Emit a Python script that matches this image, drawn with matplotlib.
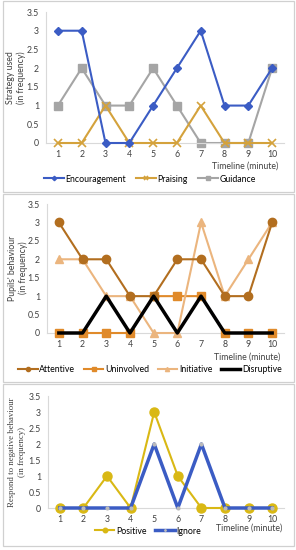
import matplotlib.pyplot as plt
from matplotlib.patches import Rectangle

# data
minutes = [1, 2, 3, 4, 5, 6, 7, 8, 9, 10]

encouragement = [3, 3, 0, 0, 1, 2, 3, 1, 1, 2]
praising = [0, 0, 1, 0, 0, 0, 1, 0, 0, 0]
guidance = [1, 2, 1, 1, 2, 1, 0, 0, 0, 2]

attentive = [3, 2, 2, 1, 1, 2, 2, 1, 1, 3]
uninvolved = [0, 0, 0, 0, 1, 1, 1, 0, 0, 0]
initiative = [2, 2, 1, 1, 0, 0, 3, 1, 2, 3]
disruptive = [0, 0, 1, 0, 1, 0, 1, 0, 0, 0]

positive = [0, 0, 1, 0, 3, 1, 0, 0, 0, 0]
ignore = [0, 0, 0, 0, 2, 0, 2, 0, 0, 0]

yticks = [0, 0.5, 1, 1.5, 2, 2.5, 3, 3.5]
ytick_labels = ["0", "0.5", "1", "1.5", "2", "2.5", "3", "3.5"]

W, H = 296, 550
plt.rcParams['font.family'] = ['Lato', 'DejaVu Sans']
fs = 6.3

fig = plt.figure(figsize=(W / 100, H / 100), dpi=100)


def px_axes(x0, x1, ytop, ybot):
    return fig.add_axes([x0 / W, 1 - ybot / H, (x1 - x0) / W, (ybot - ytop) / H])


def style(ax):
    ax.set_xlim(0.5, 10.5)
    ax.set_ylim(0, 3.5)
    ax.set_yticks(yticks)
    ax.set_yticklabels(ytick_labels, fontsize=fs)
    ax.set_xticks(minutes)
    ax.set_xticklabels([str(m) for m in minutes], fontsize=fs)
    ax.tick_params(length=0, pad=5, colors='#404040')
    for s in ['top', 'right']:
        ax.spines[s].set_visible(False)
    ax.spines['left'].set_color('#D9D9D9')
    ax.spines['bottom'].set_color('#D9D9D9')
    ax.set_clip_on(False)


# panel borders
for (y0, y1) in [(1, 192), (194, 382), (384, 546)]:
    fig.patches.append(Rectangle((3 / W, 1 - y1 / H), 291 / W, (y1 - y0) / H,
                                 transform=fig.transFigure, fill=False,
                                 edgecolor='#D0D0D0', linewidth=0.9))

# panel 1
ax1 = px_axes(46, 284, 12, 143)
style(ax1)
l1, = ax1.plot(minutes, encouragement, color='#3B5CC4', lw=1.5, marker='D', ms=4.5, clip_on=False, zorder=4)
l2, = ax1.plot(minutes, praising, color='#D4A23C', lw=1.5, marker='x', ms=6, mew=1.2, clip_on=False, zorder=3)
l3, = ax1.plot(minutes, guidance, color='#A5A5A5', lw=1.5, marker='s', ms=6, clip_on=False, zorder=2)
fig.text(16 / W, 1 - 78 / H, "Strategy used\n(in frequency)", rotation=90, fontsize=fs,
         ha='center', va='center', color='#404040')
fig.text(278 / W, 1 - 166 / H, "Timeline (minute)", fontsize=fs, ha='right', va='center', color='#404040')
fig.legend([l1, l2, l3], ["Encouragement", "Praising", "Guidance"], loc='center',
           bbox_to_anchor=(150 / W, 1 - 179 / H), ncol=3, frameon=False, fontsize=fs,
           handlelength=2.2, handletextpad=0.2, columnspacing=1.2, markerscale=0.5)

# panel 2
ax2 = px_axes(47, 284, 204, 333)
style(ax2)
a1, = ax2.plot(minutes, attentive, color='#B26E1F', lw=1.5, marker='o', ms=6, clip_on=False, zorder=5)
a2, = ax2.plot(minutes, uninvolved, color='#E08A2A', lw=1.5, marker='s', ms=6, clip_on=False, zorder=3)
a3, = ax2.plot(minutes, initiative, color='#EBB57E', lw=1.5, marker='^', ms=6, clip_on=False, zorder=4)
a4, = ax2.plot(minutes, disruptive, color='#000000', lw=2.5, clip_on=False, zorder=6)
fig.text(18 / W, 1 - 268 / H, "Pupils' behaviour\n(in frequency)", rotation=90, fontsize=fs,
         ha='center', va='center', color='#404040')
fig.text(280 / W, 1 - 357 / H, "Timeline (minute)", fontsize=fs, ha='right', va='center', color='#404040')
fig.legend([a1, a2, a3, a4], ["Attentive", "Uninvolved", "Initiative", "Disruptive"], loc='center',
           bbox_to_anchor=(150 / W, 1 - 370 / H), ncol=4, frameon=False, fontsize=fs,
           handlelength=2.2, handletextpad=0.2, columnspacing=1.0, markerscale=0.5)

# panel 3
ax3 = px_axes(48, 284, 396, 508)
style(ax3)
p1, = ax3.plot(minutes, positive, color='#D9B814', lw=1.5, marker='o', ms=6.5, clip_on=False, zorder=3)
p2, = ax3.plot(minutes, ignore, color='#3B5CC4', lw=2.5, marker='o', ms=2, mfc='#BBBBBB', mec='#BBBBBB',
               clip_on=False, zorder=4)
fig.text(17 / W, 1 - 452 / H, "Respond to negative behaviour\n(in frequency)", rotation=90, fontsize=fs,
         ha='center', va='center', color='#404040', family='Liberation Serif')
fig.text(282 / W, 1 - 528 / H, "Timeline (minute)", fontsize=fs, ha='right', va='center', color='#404040')
fig.legend([p1, p2], ["Positive", "Ignore"], loc='center',
           bbox_to_anchor=(148 / W, 1 - 531 / H), ncol=2, frameon=False, fontsize=fs,
           handlelength=2.2, handletextpad=0.2, columnspacing=1.0, markerscale=0.5)

fig.savefig("out.png", dpi=100)
